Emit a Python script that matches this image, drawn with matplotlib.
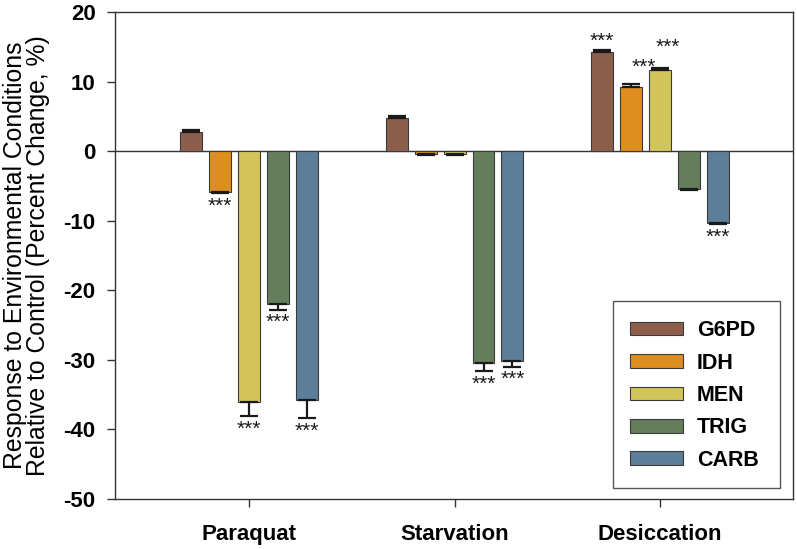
import matplotlib
matplotlib.use("Agg")
import matplotlib.pyplot as plt
from matplotlib.patches import Rectangle
import numpy as np

plt.rcParams['font.family'] = ['Liberation Sans', 'DejaVu Sans']
plt.rcParams['axes.unicode_minus'] = False

conditions = ["Paraquat", "Starvation", "Desiccation"]
series = ["G6PD", "IDH", "MEN", "TRIG", "CARB"]
colors = ["#8C5E4B", "#DE8E1E", "#D3C45A", "#647E5C", "#5D7E98"]

g6pd = [2.8, 4.8, 14.2]
idh = [-5.9, -0.4, 9.3]
men = [-36.1, -0.4, 11.7]
trig = [-21.9, -30.4, -5.4]
carb = [-35.8, -30.1, -10.3]

g6pd_err = [0.2, 0.2, 0.3]
idh_err = [0.15, 0.15, 0.3]
men_err = [2.0, 0.15, 0.3]
trig_err = [0.9, 1.2, 0.15]
carb_err = [2.6, 0.9, 0.15]

# significance markers per series per condition
g6pd_sig = ["", "", "***"]
idh_sig = ["***", "", "***"]
men_sig = ["***", "", "***"]
trig_sig = ["***", "***", ""]
carb_sig = ["***", "***", "***"]

values = [g6pd, idh, men, trig, carb]
errors = [g6pd_err, idh_err, men_err, trig_err, carb_err]
sigs = [g6pd_sig, idh_sig, men_sig, trig_sig, carb_sig]

fig = plt.figure(figsize=(7.97, 5.49), dpi=100)
ax = fig.add_axes([0.1443, 0.0911, 0.8507, 0.8869])

x = np.arange(len(conditions))
width = 0.107
step = 0.141
pos_off = [0.0, 1.1, 1.6, 1.1, 1.1]
pos_dx = [0.0, 0.06, 0.04, 0.0, 0.0]
for i, (name, vals, errs, sg, c) in enumerate(zip(series, values, errors, sigs, colors)):
    pos = x + (i - 2) * step
    vals = np.array(vals)
    errs = np.array(errs)
    ax.bar(pos, vals, width, color=c, edgecolor="#3a3a3a", linewidth=0.8, label=name, zorder=2)
    lower = np.where(vals < 0, errs, 0)
    upper = np.where(vals >= 0, errs, 0)
    ax.errorbar(pos, vals, yerr=[lower, upper], fmt="none", ecolor="#1a1a1a",
                elinewidth=1.6, capsize=6.5, capthick=1.6, zorder=3)
    for p, v, e, s in zip(pos, vals, errs, sg):
        if not s:
            continue
        if v < 0:
            ax.text(p, v - e - 0.5, s, ha="center", va="top", fontsize=15, color="#1a1a1a")
        else:
            ax.text(p + pos_dx[i], v + e + pos_off[i], s, ha="center", va="bottom",
                    fontsize=15, color="#1a1a1a")

ax.axhline(0, color="#333333", linewidth=1.0, zorder=1)

ax.set_xlim(-0.652, 2.647)
ax.set_ylim(-50, 20)
ax.set_yticks(np.arange(-50, 21, 10))
ax.set_xticks(x)
ax.set_xticklabels(conditions, fontsize=16, fontweight="bold")
for lab in ax.get_yticklabels():
    lab.set_fontweight("bold")
    lab.set_fontsize(16)
ax.tick_params(axis="y", direction="out", length=6, width=1, pad=8, colors="#333333", labelcolor="black")
ax.tick_params(axis="x", direction="out", length=6, width=1, pad=12, colors="#333333", labelcolor="black")
for sp in ax.spines.values():
    sp.set_color("#333333")
    sp.set_linewidth(1.0)

ax.set_ylabel("Response to Environmental Conditions\nRelative to Control (Percent Change, %)",
              fontsize=17.8, linespacing=0.95)
ax.yaxis.set_label_coords(-0.0965, 0.5)

# legend frame
ax.add_patch(Rectangle((0.7345, 0.0226), 0.2465, 0.384, transform=ax.transAxes,
                       facecolor="white", edgecolor="#555555", linewidth=1.0, zorder=4))
leg = ax.legend(loc="center left", bbox_to_anchor=(0.7596, 0.2125),
                prop={"weight": "bold", "size": 15.5}, frameon=False,
                handlelength=2.46, handleheight=0.6,
                labelspacing=0.53, borderpad=0, handletextpad=0.65, borderaxespad=0)
leg.set_zorder(5)

fig.savefig("out.png", dpi=100)
